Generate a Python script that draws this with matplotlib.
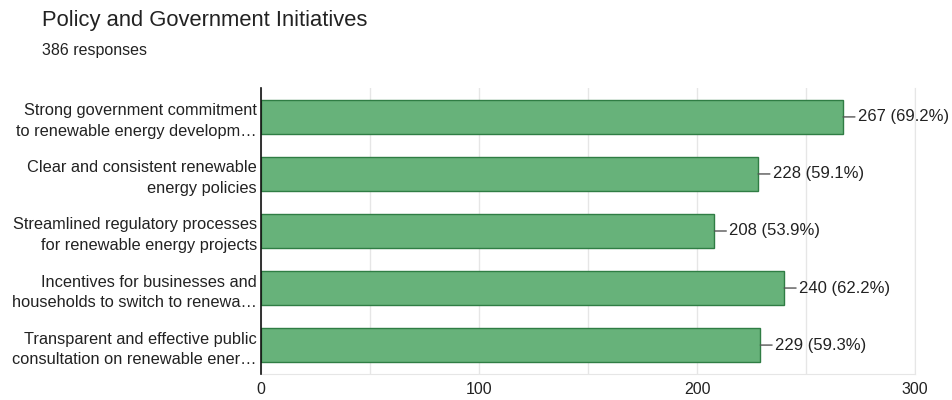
import matplotlib.pyplot as plt
from matplotlib.ticker import MultipleLocator

GREEN = "#67b27a"
GREEN_EDGE = "#2f7d44"
INK = "#222222"
GRID = "#e6e6e6"

categories = [
    "Strong government commitment\nto renewable energy developm…",
    "Clear and consistent renewable\nenergy policies",
    "Streamlined regulatory processes\nfor renewable energy projects",
    "Incentives for businesses and\nhouseholds to switch to renewa…",
    "Transparent and effective public\nconsultation on renewable ener…",
]
counts = [267, 228, 208, 240, 229]
percents = [69.2, 59.1, 53.9, 62.2, 59.3]
x_ticks = [0, 100, 200, 300]

plt.rcParams["font.family"] = ["Liberation Sans", "DejaVu Sans"]

fig = plt.figure(figsize=(9.53, 4.0), dpi=100)
ax = fig.add_axes([0.2739, 0.066, 0.6863, 0.713])

positions = list(range(len(categories)))
ax.barh(positions, counts, height=0.6, color=GREEN, edgecolor=GREEN_EDGE, linewidth=1.0, zorder=3)
ax.set_ylim(len(categories) - 0.5, -0.5)
ax.set_xlim(0, 300)

ax.set_yticks(positions, categories, fontsize=11.8, color=INK, linespacing=1.45)
ax.set_xticks(x_ticks)
ax.xaxis.set_minor_locator(MultipleLocator(50))
ax.tick_params(axis="both", which="both", length=0, labelcolor=INK)
ax.tick_params(axis="x", labelsize=11.5, pad=6)
ax.tick_params(axis="y", pad=3)
ax.grid(axis="x", which="both", color=GRID, lw=1.0, zorder=0)

ax.spines["top"].set_visible(False)
ax.spines["right"].set_color(GRID)
ax.spines["bottom"].set_color(GRID)
ax.spines["left"].set_color("#111111")
ax.spines["left"].set_linewidth(1.2)
ax.spines["left"].set_zorder(4)

# value labels with a short leader line off the bar end
for pos, n, pct in zip(positions, counts, percents):
    ax.annotate(
        f"{n} ({pct}%)",
        xy=(n, pos),
        xytext=(10.5, 0),
        textcoords="offset points",
        va="center",
        ha="left",
        fontsize=12,
        color=INK,
        annotation_clip=False,
        arrowprops=dict(arrowstyle="-", color="#555555", lw=1.0, shrinkA=0, shrinkB=0),
    )

fig.text(0.044, 0.948, "Policy and Government Initiatives", fontsize=15.8, color=INK, va="center")
fig.text(0.044, 0.875, "386 responses", fontsize=11.5, color=INK, va="center")

fig.savefig("out.png", dpi=100)
